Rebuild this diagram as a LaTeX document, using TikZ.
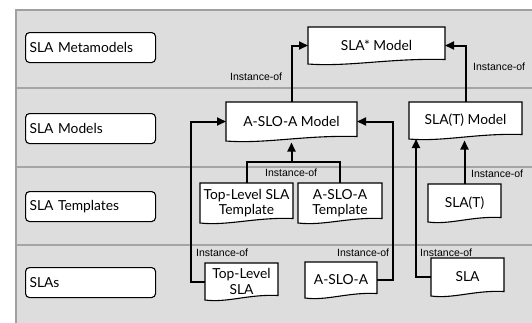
\documentclass[tikz,border=0pt]{standalone}
\usepackage{fontspec}
\setmainfont{Lato}
\newfontfamily\tagfont{Liberation Sans}
\usetikzlibrary{arrows.meta}

\definecolor{panelfill}{RGB}{221,221,221}
\definecolor{panelrule}{RGB}{160,160,160}
\definecolor{bandrule}{RGB}{165,165,165}

% A flowchart "document" shape: straight top and sides, wavy bottom edge
\makeatletter
\pgfdeclareshape{docpage}{
  \inheritsavedanchors[from=rectangle]
  \inheritanchorborder[from=rectangle]
  \inheritanchor[from=rectangle]{center}
  \inheritanchor[from=rectangle]{north}
  \inheritanchor[from=rectangle]{south}
  \inheritanchor[from=rectangle]{east}
  \inheritanchor[from=rectangle]{west}
  \inheritanchor[from=rectangle]{north east}
  \inheritanchor[from=rectangle]{north west}
  \inheritanchor[from=rectangle]{south east}
  \inheritanchor[from=rectangle]{south west}
  \inheritanchor[from=rectangle]{mid}
  \inheritanchor[from=rectangle]{base}
  \backgroundpath{%
    \southwest \edef\dp@xa{\the\pgf@x}\edef\dp@ya{\the\pgf@y}%
    \northeast \edef\dp@xb{\the\pgf@x}\edef\dp@yb{\the\pgf@y}%
    \pgfpathmoveto{\pgfpoint{\dp@xa}{\dp@ya}}%
    \pgfpathlineto{\pgfpoint{\dp@xa}{\dp@yb}}%
    \pgfpathlineto{\pgfpoint{\dp@xb}{\dp@yb}}%
    \pgfpathlineto{\pgfpoint{\dp@xb}{\dp@ya+4.5pt}}%
    \pgfpathcurveto{\pgfpoint{\dp@xb-0.4*(\dp@xb-\dp@xa)}{\dp@ya+6pt}}%
                   {\pgfpoint{\dp@xa+0.3*(\dp@xb-\dp@xa)}{\dp@ya-3pt}}%
                   {\pgfpoint{\dp@xa}{\dp@ya}}%
    \pgfpathclose
  }
}
\makeatother

\begin{document}
\begin{tikzpicture}[x=1pt,y=-1pt,
  tier/.style={draw=black, line width=1.1pt, fill=white, rounded corners=4pt,
    minimum height=30pt, text width=122pt, align=left, inner xsep=4pt,
    inner ysep=0pt, anchor=north west, font=\fontsize{13.8}{15}\selectfont},
  artefact/.style={shape=docpage, draw=black, line width=1.1pt, fill=white,
    inner sep=0pt, outer sep=0pt, align=center, anchor=north west,
    font=\fontsize{13.8}{15.5}\selectfont},
  link/.style={line width=2pt},
  relation/.style={link, -{Triangle[length=9pt,width=8pt]}},
  tag/.style={font=\tagfont\fontsize{10.5}{12}\selectfont, inner sep=0pt, anchor=west},
]
\path[use as bounding box, clip] (0,0) rectangle (532,322);

% panel with its four bands
\fill[panelfill] (16,10) rectangle (540,330);
\draw[panelrule, line width=2pt] (16,330) -- (16,10) -- (540,10);
\foreach \y in {88,167,245}
  \draw[bandrule, line width=1.2pt] (17,\y) -- (540,\y);

% band titles
\node[tier] (tmeta) at (25,32)  {SLA Metamodels};
\node[tier] (tmod)  at (25,113) {SLA Models};
\node[tier] (ttpl)  at (25,191) {SLA Templates};
\node[tier] (tsla)  at (25,267) {SLAs};

% artefacts
\node[artefact, minimum width=137pt, minimum height=37pt] (meta)      at (308,27)  {SLA* Model};
\node[artefact, minimum width=131pt, minimum height=39pt] (aslomodel) at (226,102) {A-SLO-A Model};
\node[artefact, minimum width=113pt, minimum height=37pt] (stmodel)   at (409,102) {SLA(T) Model};
\node[artefact, minimum width=93pt,  minimum height=40pt] (tlt)       at (200,183) {Top-Level SLA\\Template};
\node[artefact, minimum width=84pt,  minimum height=40pt] (alt)       at (298,183) {A-SLO-A\\Template};
\node[artefact, minimum width=73pt,  minimum height=38pt] (st)        at (428,184) {SLA(T)};
\node[artefact, minimum width=73pt,  minimum height=37pt] (tls)       at (205,263) {Top-Level\\SLA};
\node[artefact, minimum width=72pt,  minimum height=36pt] (aslo)      at (305,262) {A-SLO-A};
\node[artefact, minimum width=73pt,  minimum height=38pt] (sla)       at (431,258) {SLA};

% instance-of relations
\draw[relation] (aslomodel.north) |- (meta.west);
\draw[relation] (stmodel.north) |- (meta.east);

\coordinate (tjoin) at (aslomodel.south |- 0,162);
\draw[link] (tlt.north) |- (alt.north |- tjoin) -- (alt.north);
\draw[relation, shorten >=1.5pt] (tjoin) -- (aslomodel.south);

\draw[relation] (tls.west) -- ++(-14,0) |- (aslomodel.west);
\draw[relation] (aslo.east) -- ++(16,0) |- (aslomodel.east);

\draw[relation, shorten >=1.5pt] (st.north) -- (st.north |- stmodel.south);
\draw[relation] (sla.west) -| ([xshift=7pt]stmodel.south west);

% relation labels
\node[tag] (tag1) at (230,77)  {Instance-of};
\node[tag] (tag2) at (473,67)  {Instance-of};
\node[tag] (tag3) at (265,173) {Instance-of};
\node[tag] (tag4) at (471,174) {Instance-of};
\node[tag] (tag5) at (196,253) {Instance-of};
\node[tag] (tag6) at (337,253) {Instance-of};
\node[tag] (tag7) at (420,253) {Instance-of};
\end{tikzpicture}
\end{document}
